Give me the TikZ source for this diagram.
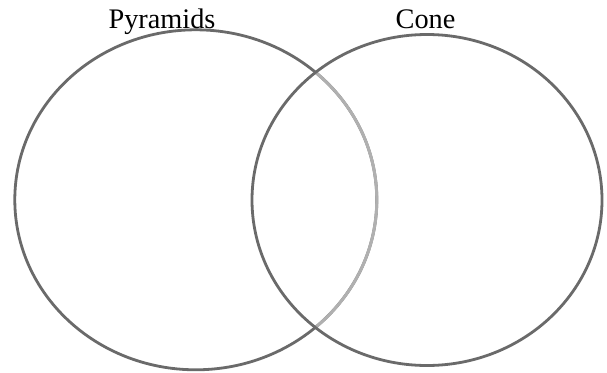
\documentclass[tikz,border=0pt]{standalone}
\usepackage{fontspec}
\setmainfont{Liberation Serif}
\definecolor{ringdark}{HTML}{6A6A6A}
\definecolor{ringlight}{HTML}{B0B0B0}
\begin{document}
\begin{tikzpicture}[x=1pt,y=-1pt,
  ring/.style={draw=ringdark,line width=2.8pt},
  ringsoft/.style={draw=ringlight,line width=3pt},
  label/.style={font=\fontsize{28.3}{30}\selectfont,inner sep=0pt,anchor=base}]
\useasboundingbox[fill=white] (0,0) rectangle (607,372);
\draw[ring] (195.8,199.8) ellipse [x radius=181,y radius=170];
\begin{scope}
  \clip (427,200) ellipse [x radius=175,y radius=165.5];
  \draw[ringsoft] (195.8,199.8) ellipse [x radius=181,y radius=170];
\end{scope}
\draw[ring] (427,200) ellipse [x radius=175,y radius=165.5];
\node[label] (pyr) at (162,28.3) {Pyramids};
\node[label] (cone) at (425.5,28.3) {Cone};
\end{tikzpicture}
\end{document}
